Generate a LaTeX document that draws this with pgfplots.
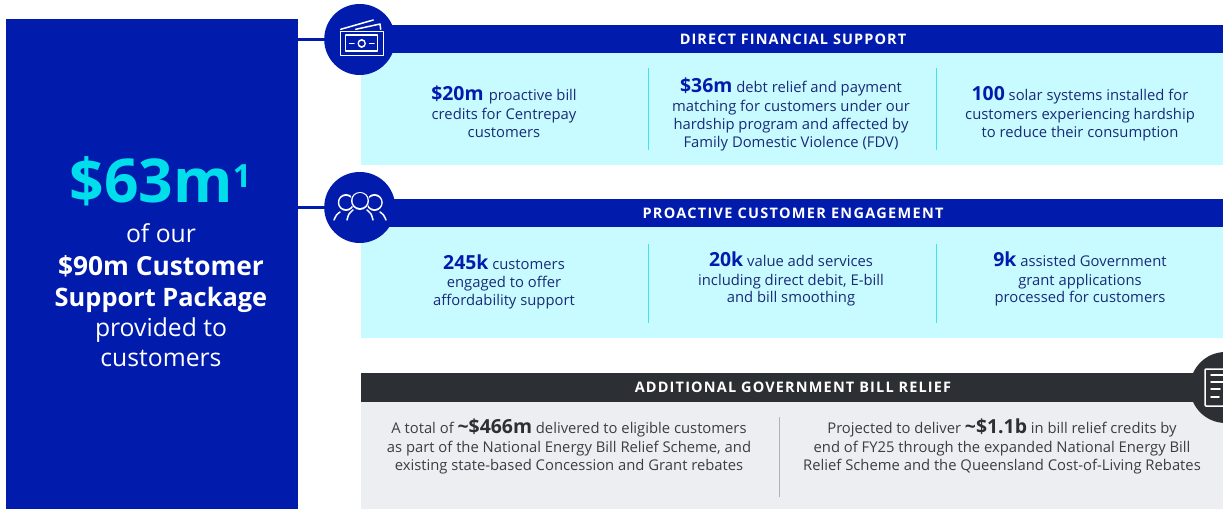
\documentclass[border=0pt]{standalone}
\usepackage{fontspec}
\setmainfont{Open Sans}
\usepackage{pgfplots}
\pgfplotsset{compat=1.18}
\definecolor{navy}{HTML}{011CAC}
\definecolor{aqua}{HTML}{00DDEB}
\definecolor{panel}{HTML}{C7FBFF}
\definecolor{greypanel}{HTML}{ECEEF2}
\definecolor{darkbar}{HTML}{2C2F33}
\definecolor{bodytxt}{HTML}{1B2A78}
\definecolor{greytxt}{HTML}{3A3E44}
\definecolor{sep}{HTML}{3FE3EE}
\newcommand{\fs}[1]{\fontsize{#1}{#1}\selectfont}
\newcommand{\hl}[1]{{\fs{19.4}\bfseries\color{navy}#1}}
\newcommand{\hk}[1]{{\fs{19.4}\bfseries\color{darkbar}#1}}
\begin{document}
\begin{tikzpicture}
\begin{axis}[
  at={(0,0)}, anchor=south west,
  scale only axis, width=1223pt, height=509pt,
  xmin=0, xmax=1223, ymin=0, ymax=509, y dir=reverse,
  axis lines=none,
  every axis plot/.append style={line join=round},
  icon/.style={white, line width=1.5pt, line cap=round},
  disc/.style={line width=71pt, line cap=round},
]
% page background, keeps the picture at its full size
\addplot[fill=white, draw=none] coordinates {(0,0) (1223,0) (1223,509) (0,509)} --cycle;
% left block
\addplot[fill=navy, draw=none] coordinates {(6,19) (298,19) (298,509) (6,509)} --cycle;
% connectors
\addplot[navy, line width=3.5pt] coordinates {(298,39.5) (330,39.5)};
\addplot[navy, line width=3.5pt] coordinates {(298,207.5) (330,207.5)};
% panels
\addplot[fill=panel, draw=none] coordinates {(361,53) (1223,53) (1223,165) (361,165)} --cycle;
\addplot[fill=panel, draw=none] coordinates {(361,227) (1223,227) (1223,338) (361,338)} --cycle;
\addplot[fill=greypanel, draw=none] coordinates {(361,402) (1223,402) (1223,509) (361,509)} --cycle;
% header bars
\addplot[fill=navy, draw=none] coordinates {(360,25) (1223,25) (1223,53) (360,53)} --cycle;
\addplot[fill=navy, draw=none] coordinates {(360,199) (1223,199) (1223,227) (360,227)} --cycle;
\addplot[fill=darkbar, draw=none] coordinates {(361,373) (1223,373) (1223,402) (361,402)} --cycle;
% icon discs
\addplot[navy, disc] coordinates {(359.7,39) (359.71,39)};
\addplot[navy, disc] coordinates {(359.7,207) (359.71,207)};
\addplot[darkbar, disc] coordinates {(1225.5,387.5) (1225.51,387.5)};
% separators
\addplot[sep, line width=1pt] coordinates {(648,68) (648,150)};
\addplot[sep, line width=1pt] coordinates {(936.5,68) (936.5,150)};
\addplot[sep, line width=1pt] coordinates {(648,244) (648,323)};
\addplot[sep, line width=1pt] coordinates {(936.5,244) (936.5,323)};
\addplot[gray!60, line width=0.8pt] coordinates {(779.5,417) (779.5,497)};
% money icon
\addplot[icon] coordinates {(340.5,31.7) (340.5,55.7) (383.5,55.7) (383.5,31.7) (340.5,31.7)};
\addplot[icon] coordinates {(345.7,35) (345.7,51) (377.7,51) (377.7,35) (345.7,35)};
\addplot[icon] coordinates {(340.7,29.3) (373.3,20)};
\addplot[icon] coordinates {(355.7,29.3) (380,24) (380.7,29.3)};
\addplot[icon] coordinates {(349.5,43.3) (354,43.3)};
\addplot[icon] coordinates {(369.5,43.3) (374,43.3)};
\addplot[white, line width=8.4pt, line cap=round] coordinates {(361.7,43.3) (361.71,43.3)};
\addplot[navy, line width=5.4pt, line cap=round] coordinates {(361.7,43.3) (361.71,43.3)};
% people icon
\addplot[white, line width=16.5pt, line cap=round] coordinates {(346,202.5) (346.01,202.5)};
\addplot[navy, line width=13.5pt, line cap=round] coordinates {(346,202.5) (346.01,202.5)};
\addplot[white, line width=16.5pt, line cap=round] coordinates {(374.5,202.5) (374.51,202.5)};
\addplot[navy, line width=13.5pt, line cap=round] coordinates {(374.5,202.5) (374.51,202.5)};
\addplot[navy, line width=19.5pt, line cap=round] coordinates {(360,200.5) (360.01,200.5)};
\addplot[white, line width=18pt, line cap=round] coordinates {(360,200.5) (360.01,200.5)};
\addplot[navy, line width=15pt, line cap=round] coordinates {(360,200.5) (360.01,200.5)};
\addplot[icon, smooth] coordinates {(334,220) (336.5,215) (340,212)};
\addplot[icon, smooth] coordinates {(386,220) (383.5,215) (380,212)};
\addplot[icon, smooth] coordinates {(347,220) (349,214) (353,210)};
\addplot[icon, smooth] coordinates {(373,220) (371,214) (367,210)};
% document icon
\addplot[icon] coordinates {(1223,369) (1206,369) (1205,370) (1205,405) (1206,406) (1223,406)};
\addplot[icon] coordinates {(1211,375) (1223,375)};
\addplot[icon] coordinates {(1211,382) (1223,382)};
\addplot[icon] coordinates {(1211,389) (1220,389)};
\addplot[icon] coordinates {(1211,397) (1219,397)};

% left block text
\node[text=aqua, font=\fs{60.5}\bfseries, anchor=base] at (axis cs:160.5,202) {\$63m\raisebox{15pt}{\fs{32}1}};
\node[text=white, font=\fs{24.7}, anchor=base] at (axis cs:161,242) {of our};
\node[text=white, font=\fs{26.3}\bfseries, anchor=base] at (axis cs:161,275) {\$90m Customer};
\node[text=white, font=\fs{25.4}\bfseries, anchor=base] at (axis cs:161,306) {Support Package};
\node[text=white, font=\fs{24.7}, anchor=base] at (axis cs:161,336) {provided to};
\node[text=white, font=\fs{24.7}, anchor=base] at (axis cs:161,366) {customers};

% headers
\node[text=white, font=\fs{14.5}\bfseries\addfontfeature{LetterSpace=7.5}, anchor=base] at (axis cs:793,44.5) {DIRECT FINANCIAL SUPPORT};
\node[text=white, font=\fs{14.5}\bfseries\addfontfeature{LetterSpace=9}, anchor=base] at (axis cs:793,218.5) {PROACTIVE CUSTOMER ENGAGEMENT};
\node[text=white, font=\fs{14.5}\bfseries\addfontfeature{LetterSpace=8}, anchor=base] at (axis cs:793,392.5) {ADDITIONAL GOVERNMENT BILL RELIEF};

% first row
\begin{scope}[every node/.style={text=bodytxt, font=\fs{14.8}, anchor=base}]
\node at (axis cs:504,100) {\hl{\$20m}\hspace{1.5pt} proactive bill};
\node at (axis cs:504,119) {credits for Centrepay};
\node at (axis cs:504,137.5) {customers};
\node at (axis cs:791,92) {\hl{\$36m} debt relief and payment};
\node at (axis cs:791,111) {matching for customers under our};
\node at (axis cs:791,129) {hardship program and affected by};
\node at (axis cs:791,147.5) {Family Domestic Violence (FDV)};
\node at (axis cs:1080,100) {\hl{100} solar systems installed for};
\node at (axis cs:1080,119) {customers experiencing hardship};
\node at (axis cs:1080,137.5) {to reduce their consumption};
% second row
\node at (axis cs:504,269) {\hl{245k} customers};
\node at (axis cs:504,287) {engaged to offer};
\node at (axis cs:504,305.5) {affordability support};
\node at (axis cs:791,266) {\hl{20k} value add services};
\node at (axis cs:791,285) {including direct debit, E-bill};
\node at (axis cs:791,302) {and bill smoothing};
\node at (axis cs:1080,266) {\hl{9k} assisted Government};
\node at (axis cs:1080,285) {grant applications};
\node at (axis cs:1080,302) {processed for customers};
\end{scope}
% third row
\begin{scope}[every node/.style={text=greytxt, font=\fs{14.8}, anchor=base}]
\node at (axis cs:569,433) {A total of \hk{\textasciitilde\$466m} delivered to eligible customers};
\node at (axis cs:569,452) {as part of the National Energy Bill Relief Scheme, and};
\node at (axis cs:569,470) {existing state-based Concession and Grant rebates};
\node at (axis cs:1002,433) {Projected to deliver \hk{\textasciitilde\$1.1b} in bill relief credits by};
\node at (axis cs:1002,452) {end of FY25 through the expanded National Energy Bill};
\node at (axis cs:1002,470) {Relief Scheme and the Queensland Cost-of-Living Rebates};
\end{scope}
\end{axis}
\end{tikzpicture}
\end{document}
